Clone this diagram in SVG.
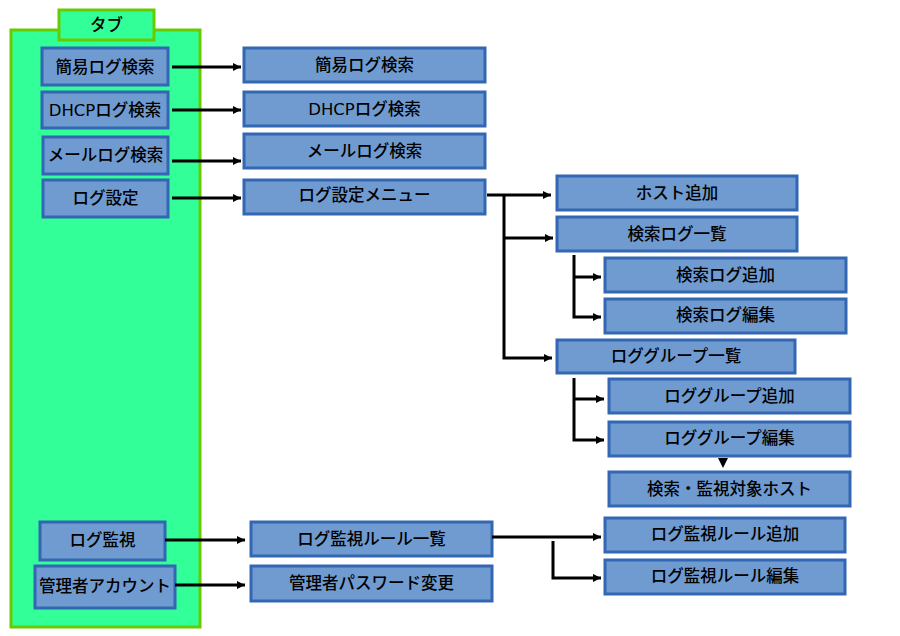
<svg xmlns="http://www.w3.org/2000/svg" width="900" height="636" viewBox="0 0 900 636">
<defs>
<style>
.tab{fill:#33FF99;stroke:#66CC00;stroke-width:3}
.b{fill:#6F9BD0;stroke:#3366B3;stroke-width:3}
.t{font-family:"DejaVu Sans","Noto Sans CJK JP",sans-serif;font-size:16.5px;font-weight:500;fill:#000;text-anchor:middle;dominant-baseline:central}
.c{fill:none;stroke:#000;stroke-width:3}
</style>
<marker id="ah" viewBox="0 0 10 10" refX="10" refY="5" markerWidth="10" markerHeight="8" markerUnits="userSpaceOnUse" orient="auto">
<path d="M0,0 L10,5 L0,10 z" fill="#000"/>
</marker>
</defs>
<rect width="900" height="636" fill="#fff"/>
<g id="panel">
<rect class="tab" x="11" y="30" width="189" height="597"/>
</g>
<g id="tab">
<rect class="tab" x="59" y="10" width="95" height="30"/>
<text class="t" x="106.5" y="25">タブ</text>
</g>
<g id="n-kan"><rect class="b" x="42" y="48" width="126" height="37"/><text class="t" x="105" y="67">簡易ログ検索</text></g>
<g id="n-dhcp"><rect class="b" x="42" y="92" width="126" height="36"/><text class="t" x="105" y="110">DHCPログ検索</text></g>
<g id="n-mail"><rect class="b" x="43" y="137" width="125" height="37"/><text class="t" x="105.5" y="155">メールログ検索</text></g>
<g id="n-set"><rect class="b" x="43" y="180" width="125" height="37"/><text class="t" x="105.5" y="198">ログ設定</text></g>
<g id="n-mon"><rect class="b" x="40" y="522" width="125" height="38"/><text class="t" x="102.5" y="540">ログ監視</text></g>
<g id="n-adm"><rect class="b" x="35" y="566" width="140" height="42"/><text class="t" x="105" y="586">管理者アカウント</text></g>

<g id="p-kan"><rect class="b" x="244" y="48" width="241" height="34"/><text class="t" x="364.5" y="65">簡易ログ検索</text></g>
<g id="p-dhcp"><rect class="b" x="244" y="92" width="241" height="34"/><text class="t" x="364.5" y="109">DHCPログ検索</text></g>
<g id="p-mail"><rect class="b" x="244" y="134" width="241" height="34"/><text class="t" x="364.5" y="151">メールログ検索</text></g>
<g id="p-menu"><rect class="b" x="244" y="180" width="241" height="34"/><text class="t" x="364.5" y="195">ログ設定メニュー</text></g>
<g id="p-rule"><rect class="b" x="251" y="522" width="241" height="34"/><text class="t" x="371.5" y="539">ログ監視ルール一覧</text></g>
<g id="p-pw"><rect class="b" x="251" y="566" width="241" height="35"/><text class="t" x="371.5" y="583">管理者パスワード変更</text></g>

<g id="q-host"><rect class="b" x="557" y="176" width="240" height="34"/><text class="t" x="677" y="193">ホスト追加</text></g>
<g id="q-slist"><rect class="b" x="557" y="217" width="240" height="34"/><text class="t" x="677" y="234">検索ログ一覧</text></g>
<g id="q-sadd"><rect class="b" x="605" y="258" width="241" height="34"/><text class="t" x="725.5" y="275">検索ログ追加</text></g>
<g id="q-sedit"><rect class="b" x="605" y="299" width="241" height="34"/><text class="t" x="725.5" y="315">検索ログ編集</text></g>
<g id="q-glist"><rect class="b" x="557" y="340" width="238" height="33"/><text class="t" x="676" y="356">ロググループ一覧</text></g>
<g id="q-gadd"><rect class="b" x="609" y="379" width="241" height="34"/><text class="t" x="729.5" y="396">ロググループ追加</text></g>
<g id="q-gedit"><rect class="b" x="609" y="422" width="241" height="34"/><text class="t" x="729.5" y="438">ロググループ編集</text></g>
<g id="q-target"><rect class="b" x="609" y="472" width="241" height="34"/><text class="t" x="729.5" y="489">検索・監視対象ホスト</text></g>
<g id="q-radd"><rect class="b" x="605" y="518" width="240" height="34"/><text class="t" x="725" y="534">ログ監視ルール追加</text></g>
<g id="q-redit"><rect class="b" x="605" y="560" width="240" height="34"/><text class="t" x="725" y="576">ログ監視ルール編集</text></g>

<g id="connectors">
<path class="c" d="M172,67 H241" marker-end="url(#ah)"/>
<path class="c" d="M172,110 H241" marker-end="url(#ah)"/>
<path class="c" d="M172,161 H241" marker-end="url(#ah)"/>
<path class="c" d="M172,198 H241" marker-end="url(#ah)"/>
<path class="c" d="M165,540 H245" marker-end="url(#ah)"/>
<path class="c" d="M175,585 H245" marker-end="url(#ah)"/>
<path class="c" d="M487,195 H551" marker-end="url(#ah)"/>
<path class="c" d="M504,195 V358 H552" marker-end="url(#ah)"/>
<path class="c" d="M504,238 H553" marker-end="url(#ah)"/>
<path class="c" d="M574,255 V317 H601" marker-end="url(#ah)"/>
<path class="c" d="M574,277 H601" marker-end="url(#ah)"/>
<path class="c" d="M574,378 V440 H604" marker-end="url(#ah)"/>
<path class="c" d="M574,399 H604" marker-end="url(#ah)"/>
<path d="M718,458 H728 L723,468 z" fill="#000"/>
<path class="c" d="M492,537 H601" marker-end="url(#ah)"/>
<path class="c" d="M553,541 V578 H601" marker-end="url(#ah)"/>
</g>
</svg>
